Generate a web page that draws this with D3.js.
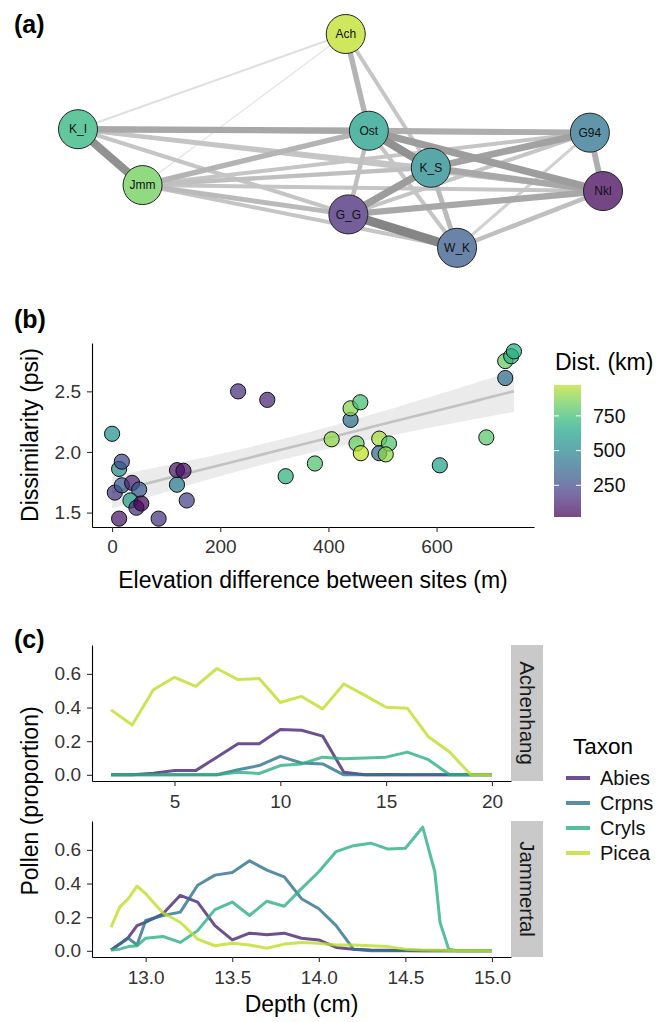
<!DOCTYPE html>
<html>
<head>
<meta charset="utf-8">
<script src="https://cdn.jsdelivr.net/npm/d3@7"></script>
<style>
  body { margin: 0; background: #fff; }
  svg { font-family: "Liberation Sans", Arial, Helvetica, sans-serif; }
</style>
</head>
<body>
<svg id="chart" width="669" height="1022"></svg>
<script>
// ---- (a) site network ----
const siteNames   = ["Ach", "K_I", "Jmm", "Ost", "K_S", "G94", "Nkl", "G_G", "W_K"];
const siteLayoutX = [51.0, 0, 12.3, 55.4, 67.2, 97.5, 100, 51.5, 72.2];
const siteLayoutY = [0, 44.5, 70.6, 45.2, 62.5, 46.1, 73.4, 84.3, 99.9];
const siteShade   = [0.9, 0.65, 0.78, 0.56, 0.47, 0.38, 0.02, 0.12, 0.28];

const linkPairs = [
  ["Ach","K_I"], ["Ach","Jmm"], ["Ach","Ost"], ["Ach","K_S"],
  ["K_I","Jmm"], ["K_I","Ost"], ["K_I","K_S"], ["K_I","G94"], ["K_I","Nkl"], ["K_I","G_G"], ["K_I","W_K"],
  ["Jmm","Ost"], ["Jmm","K_S"], ["Jmm","G94"], ["Jmm","Nkl"], ["Jmm","G_G"], ["Jmm","W_K"],
  ["Ost","K_S"], ["Ost","G94"], ["Ost","Nkl"], ["Ost","G_G"], ["Ost","W_K"],
  ["K_S","G94"], ["K_S","Nkl"], ["K_S","G_G"], ["K_S","W_K"],
  ["G94","Nkl"], ["G94","G_G"], ["G94","W_K"],
  ["Nkl","G_G"], ["Nkl","W_K"],
  ["G_G","W_K"]
];
const linkWeight = [
  0.08, 0.02, 0.45, 0.3,
  0.75, 0.55, 0.3, 0.45, 0.3, 0.3, 0.2,
  0.45, 0.35, 0.3, 0.3, 0.4, 0.3,
  0.75, 0.5, 0.65, 0.35, 0.3,
  0.6, 0.55, 0.65, 0.4,
  0.5, 0.3, 0.2,
  0.55, 0.35,
  0.85
];

// ---- (b) dissimilarity vs elevation difference ----
const elevDiff = [0, 13, 18, 5, 18, 37, 50, 34, 45, 54, 13, 86, 120, 132, 120, 138,
                  233, 287, 321, 375, 406, 441, 441, 459, 452, 460, 494, 494, 512, 506,
                  606, 692, 727, 727, 738, 743];
const dissim   = [2.15, 1.86, 1.92, 1.665, 1.725, 1.745, 1.69, 1.60, 1.54, 1.575, 1.45, 1.45, 1.85, 1.845, 1.73, 1.60,
                  2.50, 2.43, 1.80, 1.905, 2.105, 2.265, 2.36, 2.41, 2.07, 1.99, 2.11, 1.99, 2.07, 1.98,
                  1.89, 2.12, 2.61, 2.75, 2.79, 2.83];
const distKm   = [560, 520, 250, 180, 320, 120, 300, 600, 150, 22, 80, 170, 100, 70, 460, 230,
                  160, 130, 700, 780, 900, 400, 880, 760, 820, 972, 930, 380, 780, 900,
                  640, 800, 400, 820, 700, 680];
const distTicks = [250, 500, 750];

// ---- (c) pollen diagrams ----
const taxa = ["Abies", "Crpns", "Cryls", "Picea"];
const achDepth = [2, 3, 4, 5, 6, 7, 8, 9, 10, 11, 12, 13, 14, 15, 16, 17, 18, 19, 20];
const achAbies = [0, 0, 0.01, 0.025, 0.025, 0.105, 0.185, 0.185, 0.27, 0.265, 0.23, 0.015, 0, 0.002, 0, 0, 0, 0, 0];
const achCrpns = [0, 0, 0, 0, 0, 0, 0.03, 0.055, 0.11, 0.07, 0.065, 0, 0, 0, 0, 0, 0, 0, 0];
const achCryls = [0, 0, 0, 0, 0, 0, 0.015, 0.008, 0.055, 0.065, 0.105, 0.095, 0.1, 0.105, 0.135, 0.09, 0, 0, 0];
const achPicea = [0.386, 0.296, 0.506, 0.58, 0.526, 0.632, 0.566, 0.572, 0.43, 0.466, 0.392, 0.54, 0.472, 0.402, 0.396, 0.226, 0.136, 0, 0];

const jamDepth = [12.8, 12.85, 12.9, 12.95, 13.0, 13.1, 13.2, 13.3, 13.4, 13.5, 13.6, 13.7, 13.8, 13.9,
                  14.0, 14.1, 14.2, 14.3, 14.4, 14.5, 14.6, 14.67, 14.7, 14.75, 14.8, 14.9, 15.0];
const jamAbies = [0.005, 0.04, 0.08, 0.15, 0.17, 0.22, 0.33, 0.29, 0.15, 0.065, 0.105, 0.095, 0.105, 0.075,
                  0.065, 0.02, 0.01, 0.005, 0.003, 0.002, 0, 0, 0, 0, 0, 0, 0];
const jamCrpns = [0.005, 0.04, 0.075, 0.035, 0.18, 0.21, 0.23, 0.39, 0.45, 0.465, 0.535, 0.48, 0.44, 0.31,
                  0.25, 0.15, 0.01, 0, 0, 0, 0, 0, 0, 0, 0, 0, 0];
const jamCryls = [0.005, 0.01, 0.025, 0.03, 0.075, 0.085, 0.05, 0.12, 0.245, 0.29, 0.21, 0.295, 0.265, 0.37,
                  0.47, 0.59, 0.625, 0.64, 0.605, 0.61, 0.735, 0.47, 0.17, 0.01, 0, 0, 0];
const jamPicea = [0.14, 0.26, 0.31, 0.385, 0.34, 0.225, 0.17, 0.07, 0.03, 0.045, 0.035, 0.015, 0.04, 0.05,
                  0.045, 0.035, 0.035, 0.03, 0.025, 0.01, 0.005, 0.004, 0.003, 0.002, 0.001, 0, 0];

const svg = d3.select("#chart");
const tickColor = "#333";

function panelLabel(txt, y) {
  svg.append("text").attr("x", 14).attr("y", y)
    .attr("font-size", 25).attr("font-weight", "bold").text(txt);
}

function styleAxis(g) {
  g.selectAll("path.domain").attr("stroke", "#000").attr("stroke-width", 1.1);
  g.selectAll(".tick line").attr("stroke", "#333").attr("stroke-width", 1.1);
  g.selectAll(".tick text").attr("fill", tickColor).attr("font-size", 19)
    .attr("font-family", "Liberation Sans, Arial, sans-serif");
}

// ================= (a) =================
panelLabel("(a)", 33);
const netX = d3.scaleLinear().domain([0, 100]).range([78, 603]);
const netY = d3.scaleLinear().domain([0, 100]).range([34, 248]);
const netColor = t => d3.interpolateViridis(t);
const edgeWidth = d3.scaleLinear().domain([0, 1]).range([1.2, 10.5]);
const edgeGray = d3.scaleLinear().domain([0, 1]).range(["#e8e8e8", "#747474"]);

const nodes = siteNames.map((n, i) => ({ name: n, x: siteLayoutX[i], y: siteLayoutY[i], shade: siteShade[i] }));
const byName = new Map(nodes.map(d => [d.name, d]));
const links = linkPairs.map((p, i) => ({ s: byName.get(p[0]), t: byName.get(p[1]), w: linkWeight[i] }))
  .sort((a, b) => a.w - b.w);

const gNet = svg.append("g");
gNet.selectAll("line").data(links).join("line")
  .attr("x1", d => netX(d.s.x)).attr("y1", d => netY(d.s.y))
  .attr("x2", d => netX(d.t.x)).attr("y2", d => netY(d.t.y))
  .attr("stroke", d => edgeGray(d.w))
  .attr("stroke-width", d => edgeWidth(d.w));

const gNode = gNet.selectAll("g.node").data(nodes).join("g")
  .attr("transform", d => `translate(${netX(d.x)},${netY(d.y)})`);
gNode.append("circle").attr("r", 19.5)
  .attr("fill", "#fff").attr("stroke", "none");
gNode.append("circle").attr("r", 19.5)
  .attr("fill", d => netColor(d.shade)).attr("fill-opacity", 0.75)
  .attr("stroke", "#222").attr("stroke-width", 1);
gNode.append("text").attr("text-anchor", "middle").attr("dy", "0.35em")
  .attr("font-size", 12).attr("fill", "#111").text(d => d.name);

// ================= (b) =================
panelLabel("(b)", 328);
const bL = 92, bR = 534, bT = 343, bB = 527;
function expand(ext, f) { const s = (ext[1] - ext[0]) * f; return [ext[0] - s, ext[1] + s]; }
const xB = d3.scaleLinear().domain(expand(d3.extent(elevDiff), 0.05)).range([bL, bR]);
const yB = d3.scaleLinear().domain(expand(d3.extent(dissim), 0.05)).range([bB, bT]);
const distExt = d3.extent(distKm);
const distColor = d3.scaleSequential(t => d3.interpolateViridis(t * 0.9)).domain(distExt);

// linear model + 95% CI
const n = elevDiff.length;
const mx = d3.mean(elevDiff), my = d3.mean(dissim);
let sxx = 0, sxy = 0;
elevDiff.forEach((x, i) => { sxx += (x - mx) ** 2; sxy += (x - mx) * (dissim[i] - my); });
const slope = sxy / sxx, icpt = my - slope * mx;
let sse = 0;
elevDiff.forEach((x, i) => { sse += (dissim[i] - (icpt + slope * x)) ** 2; });
const sRes = Math.sqrt(sse / (n - 2));
const tCrit = 2.032;
const grid = d3.range(0, 81).map(k => d3.min(elevDiff) + (d3.max(elevDiff) - d3.min(elevDiff)) * k / 80);
const fit = grid.map(x => {
  const yh = icpt + slope * x;
  const se = sRes * Math.sqrt(1 / n + (x - mx) ** 2 / sxx);
  return { x, y: yh, lo: yh - tCrit * se, hi: yh + tCrit * se };
});
svg.append("path").datum(fit)
  .attr("d", d3.area().x(d => xB(d.x)).y0(d => yB(d.lo)).y1(d => yB(d.hi)))
  .attr("fill", "#bdbdbd").attr("fill-opacity", 0.3);
svg.append("path").datum(fit)
  .attr("d", d3.line().x(d => xB(d.x)).y(d => yB(d.y)))
  .attr("fill", "none").attr("stroke", "#c2c2c2").attr("stroke-width", 2.6);

svg.append("g").selectAll("circle").data(elevDiff).join("circle")
  .attr("cx", d => xB(d)).attr("cy", (d, i) => yB(dissim[i])).attr("r", 7.6)
  .attr("fill", (d, i) => distColor(distKm[i])).attr("fill-opacity", 0.72)
  .attr("stroke", "#111").attr("stroke-width", 1);

const axBx = svg.append("g").attr("transform", `translate(0,${bB})`)
  .call(d3.axisBottom(xB).tickValues([0, 200, 400, 600]).tickSize(5).tickSizeOuter(0).tickPadding(8));
const axBy = svg.append("g").attr("transform", `translate(${bL},0)`)
  .call(d3.axisLeft(yB).tickValues([1.5, 2.0, 2.5]).tickFormat(d3.format(".1f")).tickSize(5).tickSizeOuter(0).tickPadding(6));
styleAxis(axBx); styleAxis(axBy);

svg.append("text").attr("x", (bL + bR) / 2).attr("y", 588).attr("text-anchor", "middle")
  .attr("font-size", 23).text("Elevation difference between sites (m)");
svg.append("text").attr("transform", `translate(30,${(bT + bB) / 2}) rotate(-90)`)
  .attr("text-anchor", "middle").attr("dy", "0.35em").attr("font-size", 23).text("Dissimilarity (psi)");

// colour bar legend
const cbX = 554, cbW = 27, cbT = 385, cbB = 517;
const cbY = d3.scaleLinear().domain(distExt).range([cbB, cbT]);
const grad = svg.append("defs").append("linearGradient").attr("id", "distGrad")
  .attr("x1", 0).attr("y1", 1).attr("x2", 0).attr("y2", 0);
d3.range(0, 21).forEach(k => {
  const v = distExt[0] + (distExt[1] - distExt[0]) * k / 20;
  grad.append("stop").attr("offset", k / 20).attr("stop-color", distColor(v));
});
svg.append("rect").attr("x", cbX).attr("y", cbT).attr("width", cbW).attr("height", cbB - cbT)
  .attr("fill", "url(#distGrad)").attr("fill-opacity", 0.72);
const cbTick = svg.append("g").selectAll("g").data(distTicks).join("g");
cbTick.append("line").attr("x1", cbX).attr("x2", cbX + 5).attr("y1", d => cbY(d)).attr("y2", d => cbY(d))
  .attr("stroke", "#fff").attr("stroke-width", 1);
cbTick.append("line").attr("x1", cbX + cbW - 5).attr("x2", cbX + cbW).attr("y1", d => cbY(d)).attr("y2", d => cbY(d))
  .attr("stroke", "#fff").attr("stroke-width", 1);
cbTick.append("text").attr("x", 593).attr("y", d => cbY(d)).attr("dy", "0.35em")
  .attr("font-size", 19.5).attr("fill", "#111").text(d => d);
svg.append("text").attr("x", 555).attr("y", 370).attr("font-size", 23).text("Dist. (km)");

// ================= (c) =================
panelLabel("(c)", 648);
const cL = 92, cR = 511, stripW = 32, panelH = 136;
const facets = [
  { name: "Achenhang", top: 645, depth: achDepth, series: [achAbies, achCrpns, achCryls, achPicea], ticks: [5, 10, 15, 20], fmt: d3.format("d") },
  { name: "Jammertal", top: 821, depth: jamDepth, series: [jamAbies, jamCrpns, jamCryls, jamPicea], ticks: [13, 13.5, 14, 14.5, 15], fmt: d3.format(".1f") }
];
const yMax = d3.max(facets, f => d3.max(f.series, s => d3.max(s)));
const yDom = expand([0, yMax], 0.05);
const taxonColor = d3.scaleOrdinal().domain(taxa)
  .range([0.1, 0.1 + 0.8 / 3, 0.1 + 1.6 / 3, 0.9].map(t => d3.interpolateViridis(t)));

facets.forEach(f => {
  const x = d3.scaleLinear().domain(expand(d3.extent(f.depth), 0.05)).range([cL, cR]);
  const y = d3.scaleLinear().domain(yDom).range([f.top + panelH, f.top]);
  const line = d3.line().x((d, i) => x(f.depth[i])).y(d => y(d));
  const g = svg.append("g");
  g.selectAll("path").data(f.series).join("path")
    .attr("d", line).attr("fill", "none")
    .attr("stroke", (d, i) => taxonColor(taxa[i])).attr("stroke-opacity", 0.8)
    .attr("stroke-width", 3).attr("stroke-linejoin", "round");
  const ax = svg.append("g").attr("transform", `translate(0,${f.top + panelH})`)
    .call(d3.axisBottom(x).tickValues(f.ticks).tickFormat(f.fmt).tickSize(5).tickSizeOuter(0).tickPadding(9));
  const ay = svg.append("g").attr("transform", `translate(${cL},0)`)
    .call(d3.axisLeft(y).tickValues([0, 0.2, 0.4, 0.6]).tickFormat(d3.format(".1f")).tickSize(5).tickSizeOuter(0).tickPadding(6));
  styleAxis(ax); styleAxis(ay);
  svg.append("rect").attr("x", cR).attr("y", f.top).attr("width", stripW).attr("height", panelH)
    .attr("fill", "#c9c9c9");
  svg.append("text").attr("transform", `translate(${cR + stripW / 2},${f.top + panelH / 2}) rotate(90)`)
    .attr("text-anchor", "middle").attr("dy", "0.35em").attr("font-size", 20.5).attr("fill", "#1a1a1a")
    .text(f.name);
});

svg.append("text").attr("x", (cL + cR) / 2).attr("y", 1012).attr("text-anchor", "middle")
  .attr("font-size", 23).text("Depth (cm)");
svg.append("text").attr("transform", `translate(30,${(645 + 821 + panelH) / 2}) rotate(-90)`)
  .attr("text-anchor", "middle").attr("dy", "0.35em").attr("font-size", 23).text("Pollen (proportion)");

// taxon legend
svg.append("text").attr("x", 573).attr("y", 754).attr("font-size", 22.5).text("Taxon");
const lg = svg.append("g").selectAll("g").data(taxa).join("g")
  .attr("transform", (d, i) => `translate(0,${778 + i * 25})`);
lg.append("line").attr("x1", 566).attr("x2", 590).attr("y1", 0).attr("y2", 0)
  .attr("stroke", d => taxonColor(d)).attr("stroke-opacity", 0.8).attr("stroke-width", 4);
lg.append("text").attr("x", 600).attr("dy", "0.35em").attr("font-size", 20).attr("fill", "#111").text(d => d);
</script>
</body>
</html>
